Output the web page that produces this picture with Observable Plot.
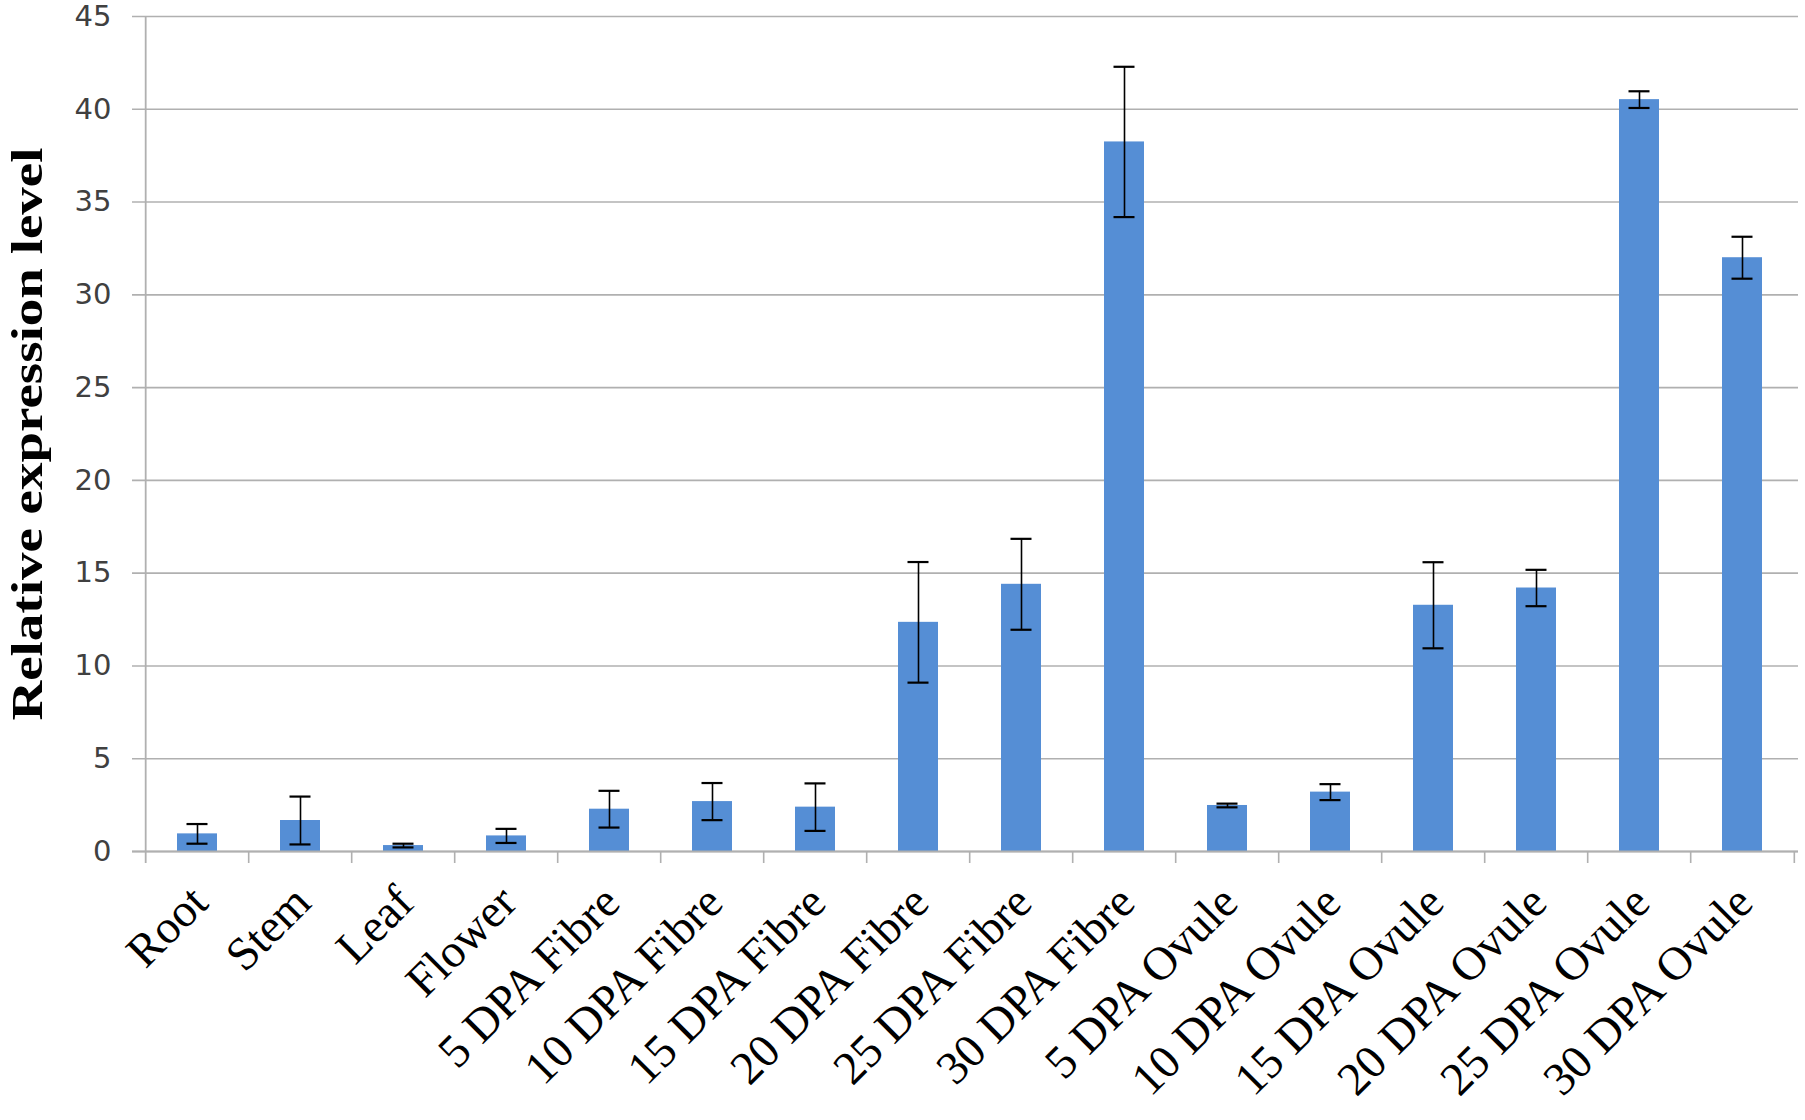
<!DOCTYPE html>
<html>
<head>
<meta charset="utf-8">
<script src="https://cdn.jsdelivr.net/npm/d3@7"></script>
<script src="https://cdn.jsdelivr.net/npm/@observablehq/plot@0.6"></script>
<style>
  html, body { margin: 0; padding: 0; background: #ffffff; }
  #chart svg { display: block; }
</style>
</head>
<body>
<div id="chart"></div>
<script>
// ---- data ----
const categories = [
  "Root", "Stem", "Leaf", "Flower",
  "5 DPA Fibre", "10 DPA Fibre", "15 DPA Fibre", "20 DPA Fibre", "25 DPA Fibre", "30 DPA Fibre",
  "5 DPA Ovule", "10 DPA Ovule", "15 DPA Ovule", "20 DPA Ovule", "25 DPA Ovule", "30 DPA Ovule"
];
const values = [0.95, 1.67, 0.32, 0.84, 2.28, 2.69, 2.39, 12.35, 14.4, 38.24, 2.48, 3.2, 13.27, 14.2, 40.52, 32.0];
const errors = [0.53, 1.29, 0.1, 0.38, 0.99, 1.0, 1.28, 3.25, 2.45, 4.05, 0.1, 0.43, 2.32, 0.98, 0.45, 1.13];
const yTicks = [0, 5, 10, 15, 20, 25, 30, 35, 40, 45];
const yTitle = "Relative expression level";

const data = categories.map((c, i) => ({
  category: c, value: values[i], lo: values[i] - errors[i], hi: values[i] + errors[i]
}));

// ---- layout ----
const W = 1805, H = 1120;
const ml = 140, mr = 7, mt = 16, mb = 269;
const step = (W - ml - mr) / categories.length;
const gridColor = "#b0b0b0";

const chart = Plot.plot({
  width: W, height: H,
  marginLeft: ml, marginRight: mr, marginTop: mt, marginBottom: mb,
  style: { background: "#ffffff", overflow: "visible" },
  x: { domain: categories, paddingInner: 0.614, paddingOuter: 0.307, axis: null },
  y: { domain: [0, 45], axis: null },
  marks: [
    // horizontal gridlines (extend left as small ticks)
    Plot.ruleY(yTicks, { y: d => d, stroke: gridColor, strokeWidth: 1.6, insetLeft: -8 }),
    // y tick labels
    Plot.axisY({
      ticks: yTicks, tickSize: 0, tickPadding: 29, label: null,
      fontSize: 29, fontFamily: "DejaVu Sans", fill: "#404040"
    }),
    // bars
    Plot.barY(data, { x: "category", y: "value", fill: "#558ED5" }),
    // x axis line
    Plot.ruleY([0], { stroke: gridColor, strokeWidth: 1.8, insetLeft: -8 }),
    // y axis line (full height + tick below)
    Plot.tickX([categories[0]], { x: d => d, dx: -step / 2, stroke: gridColor, strokeWidth: 1.8, insetBottom: -12 }),
    // category boundary ticks below axis
    Plot.tickX(categories.slice(1), { x: d => d, dx: -step / 2, stroke: gridColor, strokeWidth: 1.6, insetTop: H - mt - mb, insetBottom: -12 }),
    Plot.tickX([categories[categories.length - 1]], { x: d => d, dx: step / 2, stroke: gridColor, strokeWidth: 1.6, insetTop: H - mt - mb, insetBottom: -12 }),
    // error bars
    Plot.ruleX(data, { x: "category", y1: "lo", y2: "hi", stroke: "#000000", strokeWidth: 1.6 }),
    Plot.tickY(data, { x: "category", y: "hi", stroke: "#000000", strokeWidth: 2.2, insetLeft: 9.5, insetRight: 9.5 }),
    Plot.tickY(data, { x: "category", y: "lo", stroke: "#000000", strokeWidth: 2.2, insetLeft: 9.5, insetRight: 9.5 }),
    // x tick labels (rotated)
    Plot.text(data, {
      x: "category", frameAnchor: "bottom", text: "category",
      rotate: -45, textAnchor: "end", lineAnchor: "middle",
      dx: 2, dy: 43,
      fontSize: 47, fontFamily: "Liberation Serif", fill: "#000000"
    }),
    // y axis title
    Plot.text([yTitle], {
      text: d => d, frameAnchor: "left", dx: -113, rotate: -90,
      textAnchor: "middle", lineAnchor: "middle",
      fontSize: 45, fontWeight: "bold", fontFamily: "Liberation Serif", fill: "#000000"
    })
  ]
});

// stretch the y title to the reference's length
d3.select(chart).selectAll("text")
  .filter(function () { return this.textContent === yTitle; })
  .attr("textLength", 573)
  .attr("lengthAdjust", "spacingAndGlyphs");

document.getElementById("chart").appendChild(chart);
</script>
</body>
</html>
